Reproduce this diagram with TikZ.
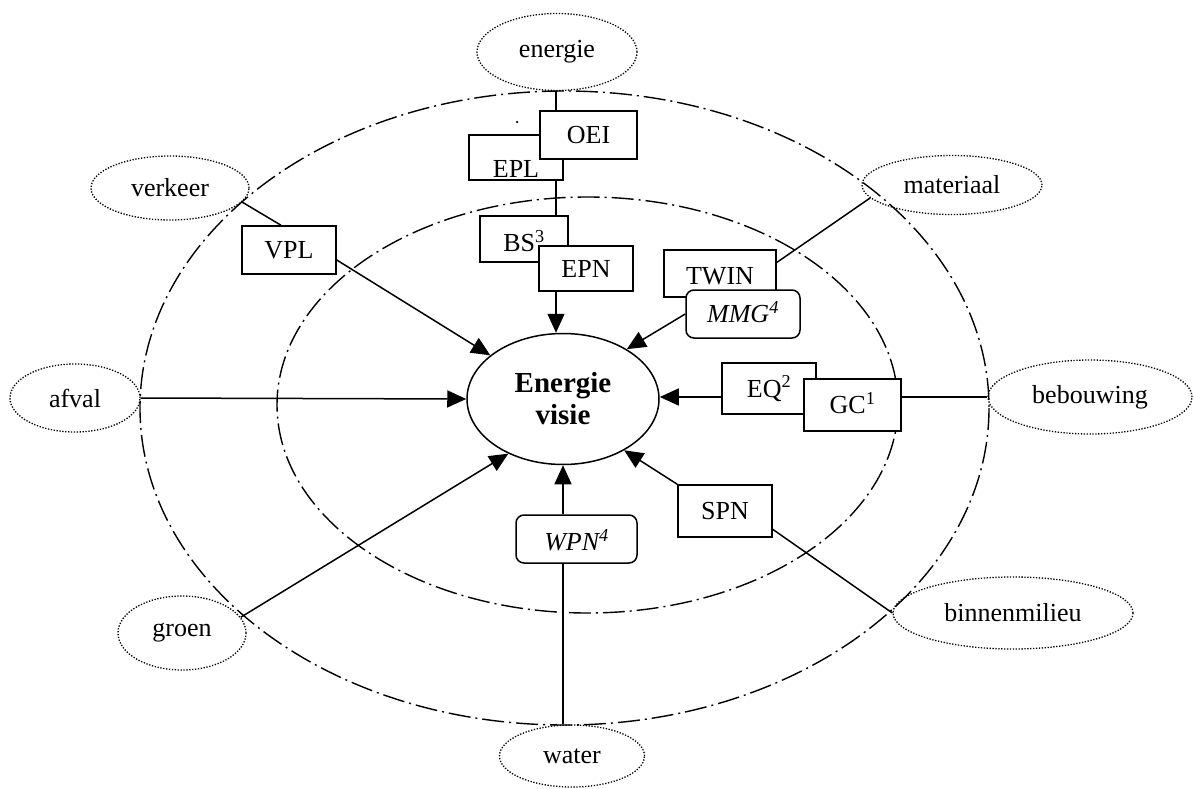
\documentclass[tikz,border=0pt]{standalone}
\usepackage{fontspec}
\setmainfont{Liberation Serif}
\usetikzlibrary{arrows.meta,calc,shapes.geometric}
\begin{document}
\begin{tikzpicture}[x=1pt,y=-1pt,
  every node/.style={font=\fontsize{26}{30}\selectfont},
  box/.style={draw, fill=white, line width=1.5pt, inner sep=0pt, text height=17pt, text depth=0pt},
  rbox/.style={box, rounded corners=8pt},
  topic/.style={ellipse, draw, dash pattern=on 1.3pt off 1.6pt, line width=1.3pt, inner sep=0pt},
  link/.style={line width=1.5pt},
  arr/.style={link, -{Triangle[length=19pt,width=17pt]}},
  ring/.style={line width=1.4pt, dash pattern=on 22pt off 5pt on 2pt off 5pt}
]
\useasboundingbox (0,0) rectangle (1194,789);

% the two policy rings
\draw[ring] (564.5,408) ellipse [x radius=424.5, y radius=317];
\draw[ring] (587.5,405) ellipse [x radius=310.5, y radius=208];

% central vision
\node[ellipse, draw, line width=1.5pt, minimum width=192pt, minimum height=131pt,
      inner sep=0pt, align=center, font=\fontsize{29}{32}\selectfont\bfseries]
      (visie) at (563,399) {Energie\\visie};

% themes
\node[topic, minimum width=160pt, minimum height=77pt] (energie) at (557,52) {energie};
\node[topic, minimum width=158pt, minimum height=64pt] (verkeer) at (170,188) {verkeer};
\node[topic, minimum width=180pt, minimum height=59pt] (materiaal) at (952,185) {materiaal};
\node[topic, minimum width=130pt, minimum height=68pt] (afval) at (75,398) {afval};
\node[topic, minimum width=204pt, minimum height=74pt] (bebouwing) at (1090,397) {bebouwing};
\node[topic, minimum width=128pt, minimum height=74pt] (groen) at (182,633) {groen};
\node[topic, minimum width=240pt, minimum height=72pt] (binnenmilieu) at (1013,613) {binnenmilieu};
\node[topic, minimum width=145pt, minimum height=62pt] (water) at (572,756) {water};

% instruments
\node[circle, fill, inner sep=0pt, minimum size=2.5pt] (dot) at (517,122) {};
\node[box, minimum width=94pt, minimum height=45pt, text height=39pt] (EPL) at (516,157.5) {EPL};
\node[box, minimum width=97pt, minimum height=48pt] (OEI) at (588.5,135) {OEI};
\node[box, minimum width=88pt, minimum height=46pt, text height=25pt] (BS) at (524,239) {BS\textsuperscript{3}};
\node[box, minimum width=94pt, minimum height=45pt] (EPN) at (586,268.5) {EPN};
\node[box, minimum width=94pt, minimum height=48pt] (VPL) at (289,250) {VPL};
\node[box, minimum width=112pt, minimum height=47pt, text height=22pt] (TWIN) at (720,273.5) {TWIN};
\node[rbox, minimum width=114pt, minimum height=48pt] (MMG) at (743,314) {\textit{MMG\textsuperscript{4}}};
\node[box, minimum width=94pt, minimum height=51pt] (EQ) at (769,388.5) {EQ\textsuperscript{2}};
\node[box, minimum width=97pt, minimum height=52pt] (GC) at (852.5,405) {GC\textsuperscript{1}};
\node[box, minimum width=94pt, minimum height=52pt] (SPN) at (725,511) {SPN};
\node[rbox, minimum width=121pt, minimum height=48pt, text height=23pt] (WPN) at (576.5,539) {\textit{WPN\textsuperscript{4}}};

% vertical axis of the energy column
\coordinate (spine) at (556,0);

% connectors
\draw[link] (spine |- energie.south) -- (spine |- OEI.north);
\draw[link] (spine |- EPL.south) -- (spine |- BS.north);
\draw[arr] (spine |- EPN.south) -- (spine |- visie.north);
\draw[link] (verkeer.-11) -- ($(VPL.north)+(-8,0)$);
\draw[arr] ($(VPL.east)+(0,10)$) -- (visie.149);
\draw[arr] (afval.east) -- (visie.west);
\draw[arr] (groen.15) -- (visie.225);
\draw[arr] (visie.south |- WPN.north) -- (visie.south);
\draw[link] (visie.south |- WPN.south) -- (visie.south |- water.north);
\draw[arr] (SPN.north west) -- (visie.-40);
\draw[link] (SPN.-21) -- (binnenmilieu.west);
\draw[arr] (EQ.west |- bebouwing.west) -- (visie.east |- bebouwing.west);
\draw[link] (GC.east |- bebouwing.west) -- (bebouwing.west);
\draw[arr] (MMG.west) -- (visie.38);
\draw[link] (TWIN.11) -- (materiaal.189);
\end{tikzpicture}
\end{document}
